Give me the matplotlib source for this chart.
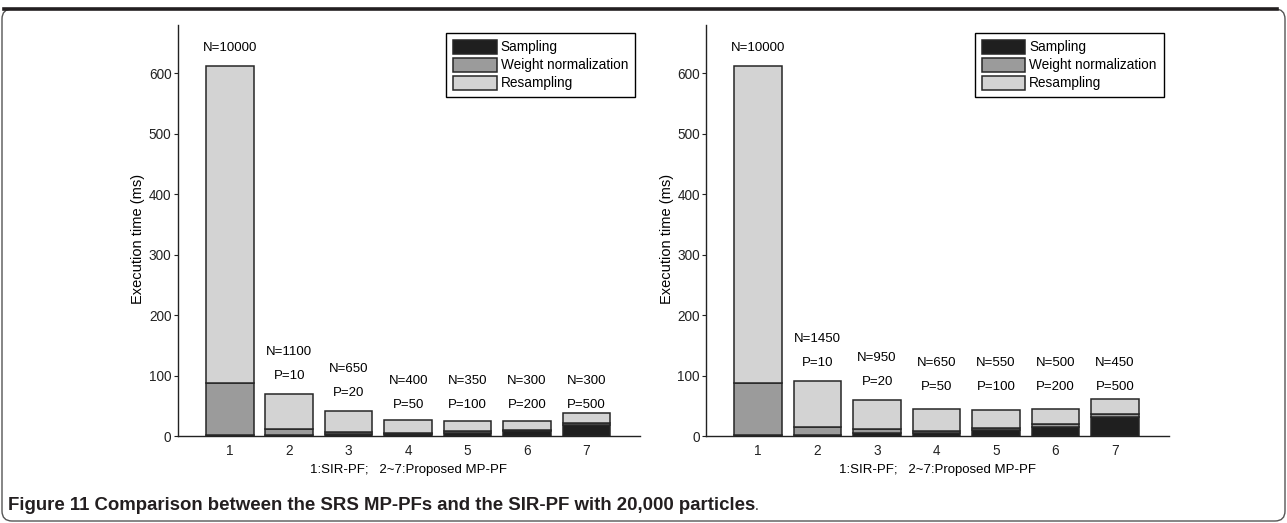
import matplotlib
matplotlib.use('Agg')
import matplotlib.pyplot as plt
from matplotlib.patches import FancyBboxPatch
from matplotlib.lines import Line2D
from matplotlib.transforms import IdentityTransform

plt.rcParams['font.family'] = ['Liberation Sans', 'DejaVu Sans']

# bar positions and stacked components
bars = [1, 2, 3, 4, 5, 6, 7]
components = ['Sampling', 'Weight normalization', 'Resampling']
colors = ['#1f1f1f', '#9b9b9b', '#d3d3d3']

# left panel (segment heights, ms)
left_sampling = [2, 2, 3, 3.5, 5.5, 8, 18]
left_weight = [86, 9, 4, 1.5, 2.5, 2, 4]
left_resampling = [524, 58, 34, 22, 17, 15, 15.5]
left_n = [10000, 1100, 650, 400, 350, 300, 300]

# right panel (segment heights, ms)
right_sampling = [2, 2, 4.5, 5.5, 10, 14.4, 32]
right_weight = [86, 12.4, 6.5, 3.5, 2.7, 5, 4.4]
right_resampling = [524, 76.2, 48, 35.7, 30.3, 25.3, 24.4]
right_n = [10000, 1450, 950, 650, 550, 500, 450]

p_vals = [None, 10, 20, 50, 100, 200, 500]

yticks = [0, 100, 200, 300, 400, 500, 600]
FS = 9.5


def draw_panel(ax, sampling, weight, resampling, n_vals, group_off):
    bottoms = [0] * len(bars)
    handles = []
    for vals, c in zip([sampling, weight, resampling], colors):
        h = ax.bar(bars, vals, width=0.8, bottom=bottoms, color=c,
                   edgecolor='#262626', linewidth=1.1)
        handles.append(h)
        bottoms = [b + v for b, v in zip(bottoms, vals)]
    totals = bottoms

    # N / P labels above the bars
    group_top = max(totals[3:])
    for i, (x, n, p) in enumerate(zip(bars, n_vals, p_vals)):
        if i >= 3:
            base, off = group_top, group_off
        else:
            base, off = totals[i], 13.3
        lines = [f'N={n}'] if p is None else [f'P={p}', f'N={n}']
        for k, s in enumerate(lines):
            ax.annotate(s, xy=(x, base), xytext=(0, off + k * 17.3),
                        textcoords='offset points', ha='center', va='center',
                        fontsize=FS)

    ax.set_xlim(0.125, 7.9)
    ax.set_ylim(0, 680)
    ax.set_xticks(bars)
    ax.set_yticks(yticks)
    ax.spines['top'].set_visible(False)
    ax.spines['right'].set_visible(False)
    for s in ['left', 'bottom']:
        ax.spines[s].set_linewidth(1.0)
        ax.spines[s].set_color('#222222')
    ax.tick_params(axis='y', direction='out', length=3, width=0.8, pad=1.5,
                   labelsize=FS + 0.3, colors='#222222')
    ax.tick_params(axis='x', length=0, pad=6, labelsize=FS + 0.3, colors='#222222')
    ax.set_ylabel('Execution time (ms)', fontsize=10.5)
    ax.yaxis.set_label_coords(-0.07, 0.48)
    ax.set_xlabel('1:SIR-PF;   2~7:Proposed MP-PF', fontsize=FS, labelpad=4)

    leg = ax.legend(handles, components, loc='upper right',
                    bbox_to_anchor=(0.989, 0.981), borderaxespad=0,
                    fontsize=9.8, fancybox=False, framealpha=1,
                    edgecolor='black', handlelength=3.2, handleheight=1.2,
                    handletextpad=0.3, labelspacing=0.25, borderpad=0.5)
    leg.get_frame().set_linewidth(1.0)


fig = plt.figure(figsize=(12.87, 5.23), dpi=100)
ax1 = fig.add_axes([0.1381, 0.1663, 0.3592, 0.7859])
ax2 = fig.add_axes([0.5486, 0.1663, 0.3594, 0.7859])

draw_panel(ax1, left_sampling, left_weight, left_resampling, left_n, 6.3)
draw_panel(ax2, right_sampling, right_weight, right_resampling, right_n, 8.5)

# rounded frame around the figure, heavier rule on top
frame = FancyBboxPatch((2, 2), 1283, 512, boxstyle='round,pad=0,rounding_size=10',
                       transform=IdentityTransform(), facecolor='none',
                       edgecolor='#555555', linewidth=1.0)
fig.add_artist(frame)
fig.add_artist(Line2D([4, 1277], [514, 514], transform=IdentityTransform(),
                      color='#231f20', linewidth=2.6))

# caption
cap_y = 1 - 506 / 523
cap = fig.text(8 / 1287, cap_y,
               'Figure 11 Comparison between the SRS MP-PFs and the SIR-PF with 20,000 particles',
               fontsize=13.4, fontweight='bold', va='center', color='#231f20')
fig.canvas.draw()
bb = cap.get_window_extent()
fig.text(bb.x1 / 1287, cap_y, '.', fontsize=10, va='center', color='#231f20')

fig.savefig('out.png', dpi=100)
